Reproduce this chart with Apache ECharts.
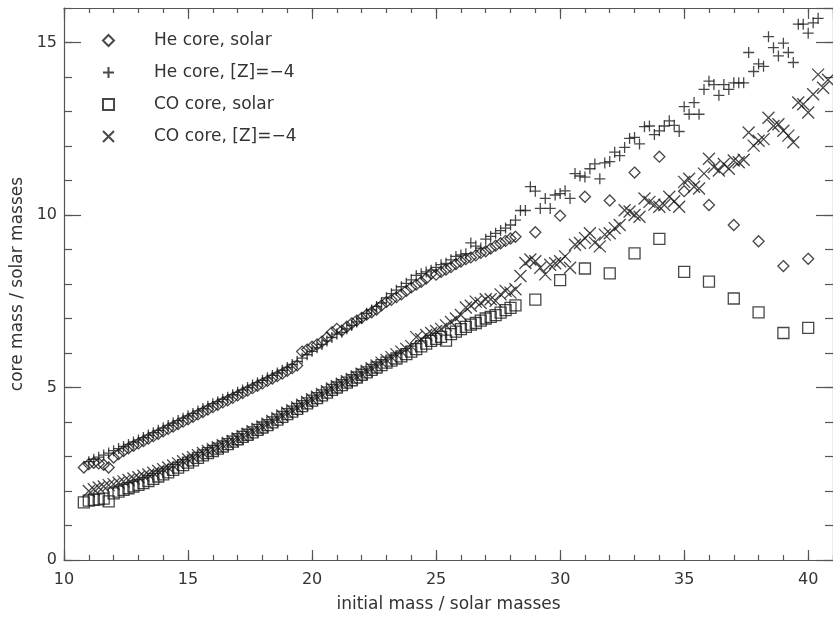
<!DOCTYPE html>
<html>
<head>
<meta charset="utf-8">
<script src="https://cdn.jsdelivr.net/npm/echarts@6/dist/echarts.min.js"></script>
<style>
html, body { margin: 0; padding: 0; background: #fff; }
#chart { width: 833px; height: 618px; }
</style>
</head>
<body>
<div id="chart"></div>
<script>
// initial masses of the solar models (fine grid, then whole masses)
const solarMass = [
  10.8,
  11.0, 11.2, 11.4, 11.6, 11.8,
  12.0, 12.2, 12.4, 12.6, 12.8,
  13.0, 13.2, 13.4, 13.6, 13.8,
  14.0, 14.2, 14.4, 14.6, 14.8,
  15.0, 15.2, 15.4, 15.6, 15.8,
  16.0, 16.2, 16.4, 16.6, 16.8,
  17.0, 17.2, 17.4, 17.6, 17.8,
  18.0, 18.2, 18.4, 18.6, 18.8,
  19.0, 19.2, 19.4, 19.6, 19.8,
  20.0, 20.2, 20.4, 20.6, 20.8,
  21.0, 21.2, 21.4, 21.6, 21.8,
  22.0, 22.2, 22.4, 22.6, 22.8,
  23.0, 23.2, 23.4, 23.6, 23.8,
  24.0, 24.2, 24.4, 24.6, 24.8,
  25.0, 25.2, 25.4, 25.6, 25.8,
  26.0, 26.2, 26.4, 26.6, 26.8,
  27.0, 27.2, 27.4, 27.6, 27.8,
  28.0, 28.2,
  29, 30, 31, 32, 33, 34, 35, 36, 37, 38, 39, 40
]

// He core, solar
const heSolar = [
  2.68,
  2.78, 2.82, 2.80, 2.76, 2.68,
  2.97, 3.07, 3.16, 3.24, 3.31,
  3.38, 3.45, 3.52, 3.59, 3.66,
  3.73, 3.80, 3.87, 3.94, 4.01,
  4.08, 4.15, 4.22, 4.29, 4.36,
  4.43, 4.50, 4.57, 4.63, 4.70,
  4.77, 4.84, 4.91, 4.98, 5.05,
  5.12, 5.19, 5.26, 5.33, 5.40,
  5.48, 5.56, 5.64, 6.04, 6.10,
  6.18, 6.25, 6.33, 6.45, 6.60,
  6.70, 6.65, 6.76, 6.86, 6.94,
  7.02, 7.11, 7.18, 7.26, 7.38,
  7.48, 7.54, 7.62, 7.70, 7.80,
  7.90, 7.98, 8.06, 8.16, 8.30,
  8.27, 8.35, 8.42, 8.49, 8.58,
  8.65, 8.72, 8.77, 8.83, 8.90,
  8.95, 9.03, 9.11, 9.18, 9.25,
  9.32, 9.37,
  9.50, 9.98, 10.53, 10.42, 11.23, 11.69, 10.69, 10.29, 9.71, 9.24, 8.52, 8.73
]

// CO core, solar
const coSolar = [
  1.67,
  1.72, 1.74, 1.76, 1.78, 1.70,
  1.93, 1.98, 2.03, 2.08, 2.13,
  2.18, 2.23, 2.29, 2.35, 2.42,
  2.48, 2.54, 2.61, 2.68, 2.75,
  2.82, 2.89, 2.96, 3.03, 3.10,
  3.16, 3.23, 3.29, 3.36, 3.43,
  3.50, 3.57, 3.63, 3.70, 3.77,
  3.84, 3.91, 3.99, 4.07, 4.15,
  4.23, 4.30, 4.38, 4.46, 4.54,
  4.62, 4.69, 4.77, 4.85, 4.93,
  5.00, 5.07, 5.14, 5.21, 5.29,
  5.37, 5.44, 5.51, 5.58, 5.65,
  5.72, 5.78, 5.84, 5.90, 5.97,
  6.04, 6.11, 6.19, 6.27, 6.35,
  6.41, 6.47, 6.36, 6.55, 6.62,
  6.69, 6.76, 6.82, 6.87, 6.94,
  7.00, 7.05, 7.10, 7.17, 7.24,
  7.31, 7.38,
  7.55, 8.11, 8.45, 8.31, 8.89, 9.31, 8.35, 8.07, 7.58, 7.18, 6.58, 6.73
]

// initial masses of the [Z]=-4 models
const lowZMass = [
  11.0, 11.2, 11.4, 11.6, 11.8,
  12.0, 12.2, 12.4, 12.6, 12.8,
  13.0, 13.2, 13.4, 13.6, 13.8,
  14.0, 14.2, 14.4, 14.6, 14.8,
  15.0, 15.2, 15.4, 15.6, 15.8,
  16.0, 16.2, 16.4, 16.6, 16.8,
  17.0, 17.2, 17.4, 17.6, 17.8,
  18.0, 18.2, 18.4, 18.6, 18.8,
  19.0, 19.2, 19.4, 19.6, 19.8,
  20.0, 20.2, 20.4, 20.6, 20.8,
  21.0, 21.2, 21.4, 21.6, 21.8,
  22.0, 22.2, 22.4, 22.6, 22.8,
  23.0, 23.2, 23.4, 23.6, 23.8,
  24.0, 24.2, 24.4, 24.6, 24.8,
  25.0, 25.2, 25.4, 25.6, 25.8,
  26.0, 26.2, 26.4, 26.6, 26.8,
  27.0, 27.2, 27.4, 27.6, 27.8,
  28.0, 28.2, 28.4, 28.6, 28.8,
  29.0, 29.2, 29.4, 29.6, 29.8,
  30.0, 30.2, 30.4, 30.6, 30.8,
  31.0, 31.2, 31.4, 31.6, 31.8,
  32.0, 32.2, 32.4, 32.6, 32.8,
  33.0, 33.2, 33.4, 33.6, 33.8,
  34.0, 34.2, 34.4, 34.6, 34.8,
  35.0, 35.2, 35.4, 35.6, 35.8,
  36.0, 36.2, 36.4, 36.6, 36.8,
  37.0, 37.2, 37.4, 37.6, 37.8,
  38.0, 38.2, 38.4, 38.6, 38.8,
  39.0, 39.2, 39.4, 39.6, 39.8,
  40.0, 40.2, 40.4, 40.6, 40.8
]

// He core, [Z]=-4 (the last masses run off the top of the plot)
const heLowZ = [
  2.85, 2.92, 2.98, 3.04, 3.10,
  3.17, 3.23, 3.29, 3.35, 3.42,
  3.48, 3.55, 3.62, 3.69, 3.76,
  3.83, 3.90, 3.97, 4.04, 4.11,
  4.18, 4.25, 4.32, 4.39, 4.46,
  4.53, 4.59, 4.66, 4.72, 4.79,
  4.86, 4.93, 5.00, 5.07, 5.14,
  5.21, 5.28, 5.35, 5.42, 5.50,
  5.58, 5.67, 5.76, 5.85, 5.95,
  6.05, 6.15, 6.25, 6.35, 6.45,
  6.55, 6.60, 6.70, 6.80, 6.90,
  7.00, 7.15, 7.25, 7.35, 7.45,
  7.60, 7.72, 7.82, 7.92, 8.02,
  8.12, 8.25, 8.30, 8.35, 8.40,
  8.48, 8.56, 8.60, 8.70, 8.80,
  8.84, 8.88, 9.19, 9.10, 9.04,
  9.30, 9.38, 9.47, 9.55, 9.62,
  9.71, 9.85, 10.13, 10.13, 10.82,
  10.69, 10.19, 10.48, 10.19, 10.58,
  10.62, 10.70, 10.48, 11.20, 11.13,
  11.10, 11.34, 11.48, 11.05, 11.51,
  11.55, 11.82, 11.72, 11.96, 12.22,
  12.25, 12.06, 12.56, 12.58, 12.33,
  12.44, 12.58, 12.73, 12.60, 12.42,
  13.14, 12.92, 13.26, 12.92, 13.64,
  13.88, 13.78, 13.47, 13.78, 13.64,
  13.83, 13.83, 13.83, 14.71, 14.16,
  14.38, 14.31, 15.17, 14.85, 14.61,
  14.98, 14.71, 14.42, 15.53, 15.53,
  15.27, 15.57, 15.70
]

// CO core, [Z]=-4
const coLowZ = [
  2.00, 2.05, 2.10, 2.13, 2.17,
  2.20, 2.24, 2.28, 2.32, 2.36,
  2.40, 2.44, 2.48, 2.53, 2.58,
  2.63, 2.68, 2.74, 2.80, 2.86,
  2.92, 2.98, 3.04, 3.10, 3.16,
  3.21, 3.27, 3.33, 3.39, 3.45,
  3.52, 3.59, 3.66, 3.73, 3.80,
  3.87, 3.95, 4.03, 4.11, 4.19,
  4.27, 4.34, 4.42, 4.50, 4.58,
  4.66, 4.73, 4.81, 4.89, 4.97,
  5.04, 5.11, 5.18, 5.25, 5.32,
  5.40, 5.48, 5.56, 5.64, 5.72,
  5.80, 5.88, 5.96, 6.04, 6.12,
  6.20, 6.46, 6.40, 6.52, 6.58,
  6.64, 6.70, 6.80, 6.90, 7.00,
  7.10, 7.32, 7.37, 7.49, 7.45,
  7.56, 7.56, 7.51, 7.70, 7.80,
  7.75, 7.85, 8.23, 8.61, 8.71,
  8.66, 8.47, 8.28, 8.56, 8.60,
  8.66, 8.80, 8.47, 9.14, 9.19,
  9.33, 9.47, 9.20, 9.09, 9.43,
  9.47, 9.62, 9.71, 10.14, 10.10,
  10.00, 9.95, 10.48, 10.38, 10.30,
  10.24, 10.29, 10.53, 10.40, 10.24,
  10.96, 11.05, 10.82, 10.77, 11.20,
  11.63, 11.39, 11.29, 11.48, 11.34,
  11.58, 11.53, 11.60, 12.39, 12.01,
  12.15, 12.20, 12.82, 12.58, 12.63,
  12.44, 12.30, 12.11, 13.26, 13.21,
  12.97, 13.50, 14.07, 13.69, 13.92
]

const xTicks = [10, 15, 20, 25, 30, 35, 40]
const yTicks = [0, 5, 10, 15]

const seriesNames = ['He core, solar', 'He core, [Z]=\u22124', 'CO core, solar', 'CO core, [Z]=\u22124']

const FONT = 'DejaVu Sans'
const INK = '#333'
const FRAME = '#555'

function pairs (xs, ys) {
  return ys.map((y, i) => [xs[i], y])
}

// one axis for major ticks, one for minor ticks, on each side of the box
function xAxisFor (position, interval, tickLen, main) {
  return {
    type: 'value',
    position: position,
    min: 10,
    max: 41,
    interval: interval,
    axisLine: { show: main, onZero: false, lineStyle: { color: FRAME, width: 1.2 } },
    axisTick: { show: true, inside: true, length: tickLen, lineStyle: { color: FRAME, width: 1.2 } },
    axisLabel: {
      show: main && position === 'bottom',
      margin: 12,
      color: INK,
      fontFamily: FONT,
      fontSize: 16,
      showMaxLabel: false,
      formatter: v => (xTicks.indexOf(v) >= 0 ? String(v) : '')
    },
    splitLine: { show: false },
    name: main && position === 'bottom' ? 'initial mass / solar masses' : '',
    nameLocation: 'middle',
    nameGap: 36,
    nameTextStyle: { color: INK, fontFamily: FONT, fontSize: 17 }
  }
}

function yAxisFor (position, interval, tickLen, main) {
  return {
    type: 'value',
    position: position,
    min: 0,
    max: 16,
    interval: interval,
    axisLine: { show: main, onZero: false, lineStyle: { color: FRAME, width: 1.2 } },
    axisTick: { show: true, inside: true, length: tickLen, lineStyle: { color: FRAME, width: 1.2 } },
    axisLabel: {
      show: main && position === 'left',
      margin: 7,
      color: INK,
      fontFamily: FONT,
      fontSize: 16,
      showMaxLabel: false,
      formatter: v => (yTicks.indexOf(v) >= 0 ? String(v) : '')
    },
    splitLine: { show: false },
    name: main && position === 'left' ? 'core mass / solar masses' : '',
    nameLocation: 'middle',
    nameGap: 37,
    nameTextStyle: { color: INK, fontFamily: FONT, fontSize: 17 }
  }
}

const outline = { color: 'rgba(0,0,0,0)', borderColor: '#1a1a1a', borderWidth: 1.3 }

let myChart = echarts.init(document.getElementById('chart'))
myChart.setOption({
  animation: false,
  backgroundColor: '#fff',
  grid: { left: 64, right: -5, top: 8, bottom: 53 },
  legend: {
    orient: 'vertical',
    left: 97,
    top: 27,
    itemWidth: 11,
    itemHeight: 11,
    itemGap: 15,
    selectedMode: false,
    textStyle: { color: INK, fontFamily: FONT, fontSize: 17, padding: [0, 0, 0, 35] },
    data: seriesNames
  },
  xAxis: [
    xAxisFor('bottom', 5, 10, true),
    xAxisFor('bottom', 1, 5, false),
    xAxisFor('top', 5, 11, true),
    xAxisFor('top', 1, 5, false)
  ],
  yAxis: [
    yAxisFor('left', 5, 17, true),
    yAxisFor('left', 1, 8, false),
    yAxisFor('right', 5, 17, true),
    yAxisFor('right', 1, 8, false)
  ],
  series: [
    {
      name: seriesNames[0],
      type: 'scatter',
      symbol: 'diamond',
      symbolSize: 11,
      itemStyle: outline,
      data: pairs(solarMass, heSolar)
    },
    {
      name: seriesNames[1],
      type: 'scatter',
      symbol: 'path://M0,5H10M5,0V10',
      symbolSize: 11,
      itemStyle: outline,
      data: pairs(lowZMass, heLowZ)
    },
    {
      name: seriesNames[2],
      type: 'scatter',
      symbol: 'rect',
      symbolSize: 11,
      itemStyle: outline,
      data: pairs(solarMass, coSolar)
    },
    {
      name: seriesNames[3],
      type: 'scatter',
      symbol: 'path://M0,0L10,10M10,0L0,10',
      symbolSize: 12,
      itemStyle: outline,
      data: pairs(lowZMass, coLowZ)
    }
  ]
})
</script>
</body>
</html>
